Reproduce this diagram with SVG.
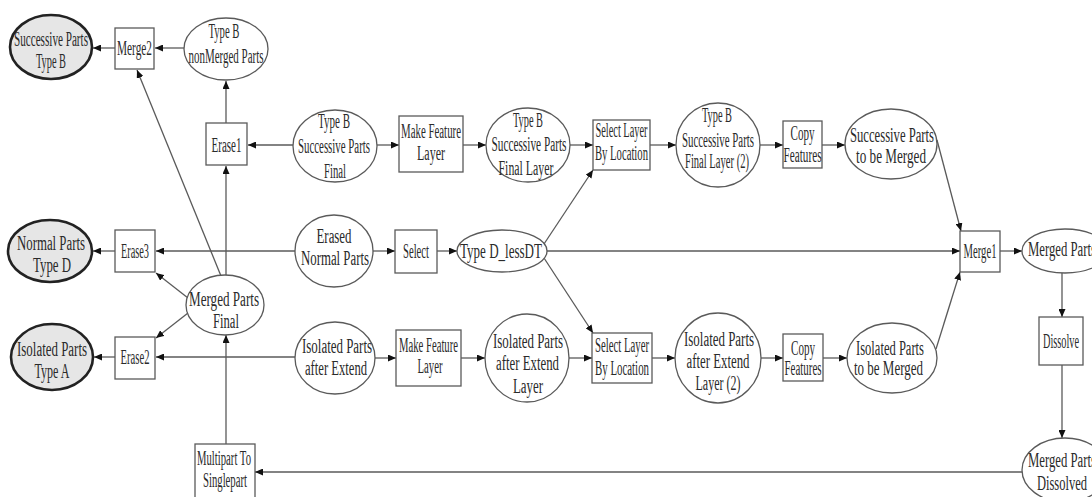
<svg xmlns="http://www.w3.org/2000/svg" width="1092" height="497" viewBox="0 0 1092 497">
<defs>
<marker id="arr" viewBox="0 0 8 7" refX="8" refY="3.5" markerWidth="8" markerHeight="7" markerUnits="userSpaceOnUse" orient="auto"><path d="M0,0 L8,3.5 L0,7 z" fill="#111"/></marker>
<style>
.nd{fill:#fff;stroke:#5a5a5a;stroke-width:1.3}
.tm{fill:#e6e6e6;stroke:#222;stroke-width:2.6}
text{font-family:"Liberation Serif","Times New Roman",serif;font-size:20px;fill:#2a2a2a;text-anchor:middle}
#connectors path{fill:none;stroke:#5a5a5a;stroke-width:1.3;marker-end:url(#arr)}
</style>
</defs>
<rect width="1092" height="497" fill="#fff"/>
<g id="connectors">
<path d="M115,48 H93"/>
<path d="M184,48 H155"/>
<path d="M226,123 V81"/>
<path d="M293,145 H248"/>
<path d="M226,275 V166"/>
<path d="M221,276 L137,70"/>
<path d="M188,298 L156,273"/>
<path d="M188,313 L156,338"/>
<path d="M295,251 H156"/>
<path d="M115,251 H93"/>
<path d="M115,357 H94"/>
<path d="M295,357 H156"/>
<path d="M377,145 H399"/>
<path d="M463,145 H486"/>
<path d="M570,145 H593"/>
<path d="M650,145 H676"/>
<path d="M760,145 H783"/>
<path d="M822,145 H845"/>
<path d="M937,140 L961,231"/>
<path d="M373,251 H395"/>
<path d="M437,251 H457"/>
<path d="M547,251 H960"/>
<path d="M544,244 L593,170"/>
<path d="M544,258 L593,333"/>
<path d="M375,358 H396"/>
<path d="M461,358 H485"/>
<path d="M569,358 H592"/>
<path d="M652,358 H675"/>
<path d="M761,358 H783"/>
<path d="M823,358 H847"/>
<path d="M936,349 L960,272"/>
<path d="M1000,251 H1022"/>
<path d="M1062,273 V317"/>
<path d="M1062,365 V438"/>
<path d="M1022,472 H255"/>
<path d="M226,444 V335"/>
</g>
<g id="n1"><ellipse class="tm" cx="51" cy="47" rx="41" ry="32"/><text x="51" y="46" textLength="74" lengthAdjust="spacingAndGlyphs">Successive Parts</text><text x="51" y="68" textLength="30" lengthAdjust="spacingAndGlyphs">Type B</text></g>
<g id="n2"><rect class="nd" x="115" y="28" width="39" height="41"/><text x="134.5" y="55" textLength="35" lengthAdjust="spacingAndGlyphs">Merge2</text></g>
<g id="n3"><ellipse class="nd" cx="226" cy="49" rx="42" ry="31"/><text x="224" y="38" textLength="31" lengthAdjust="spacingAndGlyphs">Type B</text><text x="226" y="63" textLength="75" lengthAdjust="spacingAndGlyphs">nonMerged Parts</text></g>
<g id="n4"><rect class="nd" x="206" y="123" width="41" height="42"/><text x="226.5" y="152" textLength="30" lengthAdjust="spacingAndGlyphs">Erase1</text></g>
<g id="n5"><ellipse class="nd" cx="335" cy="146" rx="42" ry="36"/><text x="334" y="128" textLength="32" lengthAdjust="spacingAndGlyphs">Type B</text><text x="334" y="153" textLength="72" lengthAdjust="spacingAndGlyphs">Successive Parts</text><text x="335" y="178" textLength="22" lengthAdjust="spacingAndGlyphs">Final</text></g>
<g id="n6"><rect class="nd" x="399" y="116" width="64" height="56"/><text x="431" y="138" textLength="60" lengthAdjust="spacingAndGlyphs">Make Feature</text><text x="431" y="160" textLength="28" lengthAdjust="spacingAndGlyphs">Layer</text></g>
<g id="n7"><ellipse class="nd" cx="528" cy="145" rx="42" ry="37"/><text x="528" y="127" textLength="30" lengthAdjust="spacingAndGlyphs">Type B</text><text x="529" y="151" textLength="75" lengthAdjust="spacingAndGlyphs">Successive Parts</text><text x="526" y="175" textLength="55" lengthAdjust="spacingAndGlyphs">Final Layer</text></g>
<g id="n8"><rect class="nd" x="593" y="120" width="57" height="50"/><text x="621.5" y="137" textLength="52" lengthAdjust="spacingAndGlyphs">Select Layer</text><text x="621.5" y="160" textLength="53" lengthAdjust="spacingAndGlyphs">By Location</text></g>
<g id="n9"><ellipse class="nd" cx="718" cy="145" rx="42" ry="42"/><text x="717" y="122" textLength="30" lengthAdjust="spacingAndGlyphs">Type B</text><text x="718" y="147" textLength="72" lengthAdjust="spacingAndGlyphs">Successive Parts</text><text x="717" y="168" textLength="64" lengthAdjust="spacingAndGlyphs">Final Layer (2)</text></g>
<g id="n10"><rect class="nd" x="783" y="121" width="39" height="47"/><text x="802.5" y="140" textLength="24" lengthAdjust="spacingAndGlyphs">Copy</text><text x="802.5" y="162" textLength="38" lengthAdjust="spacingAndGlyphs">Features</text></g>
<g id="n11"><ellipse class="nd" cx="891" cy="144" rx="46" ry="35"/><text x="892" y="142" textLength="84" lengthAdjust="spacingAndGlyphs">Successive Parts</text><text x="891" y="163" textLength="70" lengthAdjust="spacingAndGlyphs">to be Merged</text></g>
<g id="n12"><ellipse class="tm" cx="50" cy="251" rx="42" ry="31"/><text x="51" y="250" textLength="68" lengthAdjust="spacingAndGlyphs">Normal Parts</text><text x="52" y="272" textLength="38" lengthAdjust="spacingAndGlyphs">Type D</text></g>
<g id="n13"><rect class="nd" x="115" y="230" width="40" height="42"/><text x="135" y="258" textLength="28" lengthAdjust="spacingAndGlyphs">Erase3</text></g>
<g id="n14"><ellipse class="nd" cx="225" cy="305" rx="39" ry="30"/><text x="224" y="306" textLength="70" lengthAdjust="spacingAndGlyphs">Merged Parts</text><text x="226" y="328" textLength="26" lengthAdjust="spacingAndGlyphs">Final</text></g>
<g id="n15"><ellipse class="nd" cx="334" cy="251" rx="39" ry="36"/><text x="334" y="243" textLength="35" lengthAdjust="spacingAndGlyphs">Erased</text><text x="335" y="265" textLength="68" lengthAdjust="spacingAndGlyphs">Normal Parts</text></g>
<g id="n16"><rect class="nd" x="395" y="230" width="42" height="43"/><text x="416" y="258" textLength="26" lengthAdjust="spacingAndGlyphs">Select</text></g>
<g id="n17"><ellipse class="nd" cx="502" cy="251" rx="45" ry="21"/><text x="501" y="258" textLength="82" lengthAdjust="spacingAndGlyphs">Type D_lessDT</text></g>
<g id="n18"><rect class="nd" x="960" y="231" width="40" height="41"/><text x="980" y="258" textLength="33" lengthAdjust="spacingAndGlyphs">Merge1</text></g>
<g id="n19"><ellipse class="nd" cx="1065" cy="251" rx="43" ry="22"/><text x="1062" y="256" textLength="68" lengthAdjust="spacingAndGlyphs">Merged Parts</text></g>
<g id="n20"><rect class="nd" x="1039" y="317" width="44" height="48"/><text x="1061" y="348" textLength="36" lengthAdjust="spacingAndGlyphs">Dissolve</text></g>
<g id="n21"><ellipse class="nd" cx="1065" cy="470" rx="43" ry="32"/><text x="1062" y="467" textLength="68" lengthAdjust="spacingAndGlyphs">Merged Parts</text><text x="1062" y="490" textLength="50" lengthAdjust="spacingAndGlyphs">Dissolved</text></g>
<g id="n22"><ellipse class="tm" cx="52" cy="357" rx="41" ry="33"/><text x="52" y="356" textLength="70" lengthAdjust="spacingAndGlyphs">Isolated Parts</text><text x="52" y="378" textLength="35" lengthAdjust="spacingAndGlyphs">Type A</text></g>
<g id="n23"><rect class="nd" x="115" y="337" width="40" height="42"/><text x="135" y="364" textLength="29" lengthAdjust="spacingAndGlyphs">Erase2</text></g>
<g id="n24"><ellipse class="nd" cx="335" cy="358" rx="40" ry="36"/><text x="337" y="353" textLength="70" lengthAdjust="spacingAndGlyphs">Isolated Parts</text><text x="336" y="375" textLength="62" lengthAdjust="spacingAndGlyphs">after Extend</text></g>
<g id="n25"><rect class="nd" x="396" y="330" width="65" height="56"/><text x="428.5" y="352" textLength="59" lengthAdjust="spacingAndGlyphs">Make Feature</text><text x="430" y="373" textLength="25" lengthAdjust="spacingAndGlyphs">Layer</text></g>
<g id="n26"><ellipse class="nd" cx="527" cy="358" rx="42" ry="44"/><text x="528" y="348" textLength="70" lengthAdjust="spacingAndGlyphs">Isolated Parts</text><text x="527.5" y="370" textLength="63" lengthAdjust="spacingAndGlyphs">after Extend</text><text x="528" y="393" textLength="30" lengthAdjust="spacingAndGlyphs">Layer</text></g>
<g id="n27"><rect class="nd" x="592" y="333" width="60" height="50"/><text x="622" y="352" textLength="54" lengthAdjust="spacingAndGlyphs">Select Layer</text><text x="622" y="375" textLength="54" lengthAdjust="spacingAndGlyphs">By Location</text></g>
<g id="n28"><ellipse class="nd" cx="718" cy="358" rx="43" ry="45"/><text x="719" y="346" textLength="70" lengthAdjust="spacingAndGlyphs">Isolated Parts</text><text x="718" y="368" textLength="63" lengthAdjust="spacingAndGlyphs">after Extend</text><text x="718" y="390" textLength="45" lengthAdjust="spacingAndGlyphs">Layer (2)</text></g>
<g id="n29"><rect class="nd" x="783" y="334" width="40" height="47"/><text x="803" y="355" textLength="24" lengthAdjust="spacingAndGlyphs">Copy</text><text x="803" y="375" textLength="37" lengthAdjust="spacingAndGlyphs">Features</text></g>
<g id="n30"><ellipse class="nd" cx="892" cy="358" rx="45" ry="35"/><text x="890" y="355" textLength="68" lengthAdjust="spacingAndGlyphs">Isolated Parts</text><text x="888.5" y="375" textLength="69" lengthAdjust="spacingAndGlyphs">to be Merged</text></g>
<g id="n31"><rect class="nd" x="195" y="444" width="60" height="58"/><text x="224" y="465" textLength="54" lengthAdjust="spacingAndGlyphs">Multipart To</text><text x="225" y="487" textLength="44" lengthAdjust="spacingAndGlyphs">Singlepart</text></g>
</svg>
